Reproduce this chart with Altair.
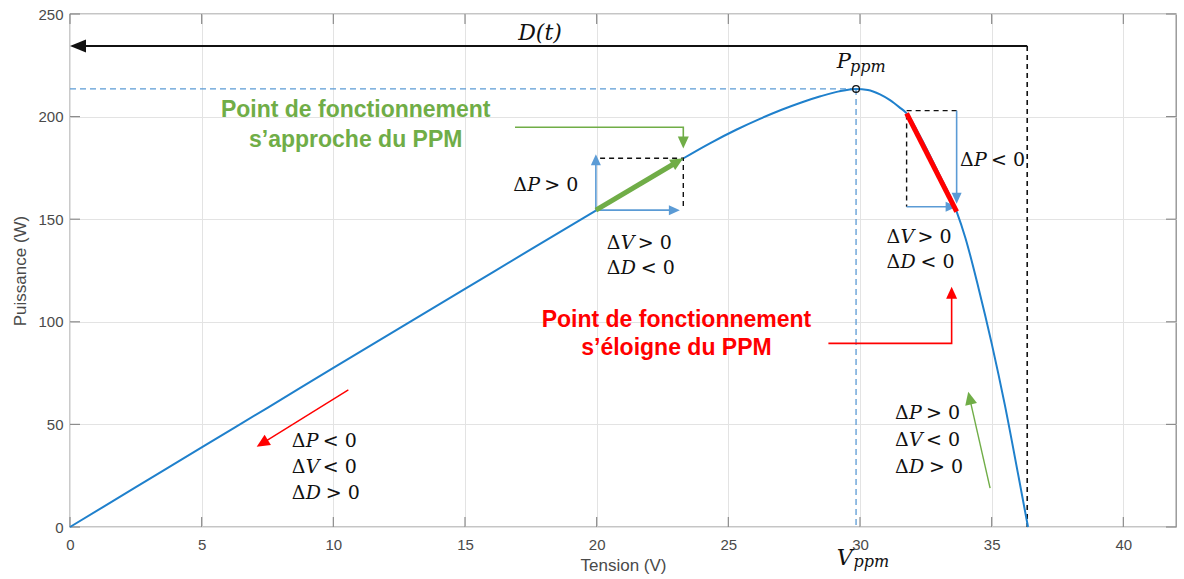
import math
import altair as alt
import pandas as pd

# ---------------- data ----------------
# P-V curve of the PV module
V = [0, 2.5, 5, 7.5, 10, 12.5, 15, 17.5, 20, 22, 23.3, 24.3, 25.3, 26.2, 27.0, 27.8,
     28.5, 29.2, 29.85, 30.3, 30.76, 31.14, 31.5, 31.77, 32.3, 33.0, 33.67, 34.0,
     34.5, 35.0, 35.5, 36.0, 36.38]
P = [0, 19.4, 38.8, 58.1, 77.5, 96.8, 116.0, 135.3, 154.4, 169.4, 179.7, 187.0,
     193.6, 198.9, 203.2, 207.0, 209.9, 212.3, 213.5, 213.0, 210.8, 208.0, 204.5,
     201.6, 190.0, 172.0, 153.7, 141.0, 116.5, 89.5, 59.5, 26.0, 0]

X_TICKS = [0, 5, 10, 15, 20, 25, 30, 35, 40]
Y_TICKS = [0, 50, 100, 150, 200, 250]

V_MPP, P_MPP = 29.85, 213.5
V_D, P_D = 36.35, 234.4          # D(t) arrow

# green step (approaching the MPP)
G_SEG_V, G_SEG_P = [19.97, 23.29], [154.4, 179.7]
G_BOX_V, G_BOX_P = [20.13, 23.29, 23.29], [179.7, 179.7, 154.6]
G_UP_V, G_UP_P = [19.97, 19.97], [154.4, 181.6]
G_RIGHT_V, G_RIGHT_P = [19.97, 23.16], [154.4, 154.4]
G_CONN_V, G_CONN_P = [16.9, 23.29, 23.29], [194.8, 194.8, 184.5]

# red step (moving away from the MPP)
R_SEG_V, R_SEG_P = [31.77, 33.67], [201.6, 153.7]
R_BOX_V, R_BOX_P = [33.67, 31.77, 31.77], [202.9, 202.9, 156.1]
R_DOWN_V, R_DOWN_P = [33.67, 33.67], [202.9, 157.5]
R_RIGHT_V, R_RIGHT_P = [31.77, 33.67], [156.1, 156.1]
R_CONN_V, R_CONN_P = [28.8, 33.48, 33.48], [89.5, 89.5, 117.1]

# small direction arrows
LL_ARR_V, LL_ARR_P = [10.57, 7.09], [66.8, 39.1]
LR_ARR_V, LR_ARR_P = [34.94, 34.11], [18.9, 65.9]

# delta labels: left position, centre height, variable, relation
DL_V = [16.83, 20.38, 20.38, 33.8, 31.01, 31.01, 8.42, 8.42, 8.42, 31.33, 31.33, 31.33]
DL_P = [166.7, 138.3, 126.1, 178.8, 141.5, 129.3, 42.1, 29.4, 16.4, 55.4, 42.4, 29.4]
DL_VAR = ["P", "V", "D", "P", "V", "D", "P", "V", "D", "P", "V", "D"]
DL_OP = [">", ">", "<", "<", ">", "<", "<", "<", ">", ">", "<", ">"]

GREEN_TXT = ["Point de fonctionnement", "s’approche du PPM"]
GREEN_TXT_V, GREEN_TXT_P = [10.85, 10.85], [200.0, 185.3]
RED_TXT = ["Point de fonctionnement", "s’éloigne du PPM"]
RED_TXT_V, RED_TXT_P = [23.03, 23.03], [97.6, 83.6]

# ---------------- styling ----------------
W, H = 1106, 513
X_MAX, Y_MAX = 42, 250
PX_X, PX_Y = W / X_MAX, H / Y_MAX

CURVE = "#1f80cc"
LBLUE = "#5b9bd5"
GREEN = "#70ad47"
RED = "#ff0000"
BOX = "#8c8c8c"
AXTXT = "#4a4a4a"

xs = alt.Scale(domain=[0, X_MAX], nice=False, zero=False)
ys = alt.Scale(domain=[0, Y_MAX], nice=False, zero=False)

x_axis = alt.Axis(values=X_TICKS, grid=True, gridColor="#e3e3e3", gridWidth=1,
                  ticks=False, domain=False, labelFont="Liberation Sans",
                  labelFontSize=15, labelColor=AXTXT, labelPadding=10,
                  labelFlush=False, titleFont="Liberation Sans", titleFontSize=17,
                  titleColor=AXTXT, titleFontWeight="normal", titlePadding=5)
y_axis = alt.Axis(values=Y_TICKS, grid=True, gridColor="#e3e3e3", gridWidth=1,
                  ticks=False, domain=False, labelFont="Liberation Sans",
                  labelFontSize=15, labelColor=AXTXT, labelPadding=7,
                  titleFont="Liberation Sans", titleFontSize=17, titleColor=AXTXT,
                  titleFontWeight="normal", titlePadding=8)


def X(f="v"):
    return alt.X(f"{f}:Q", scale=xs, axis=x_axis, title="Tension (V)")


def Y(f="p"):
    return alt.Y(f"{f}:Q", scale=ys, axis=y_axis, title="Puissance (W)")


def line(vs, ps, color, width, dash=None, interpolate=None):
    df = pd.DataFrame({"v": vs, "p": ps, "i": list(range(len(vs)))})
    kw = dict(color=color, strokeWidth=width, clip=False, strokeCap="butt")
    if dash:
        kw["strokeDash"] = dash
    if interpolate:
        kw["interpolate"] = interpolate
    return alt.Chart(df).mark_line(**kw).encode(x=X(), y=Y(), order="i:Q")


def arrow(vs, ps, color, width, head_len, head_w, dash=None):
    v_from, p_from = vs[-2], ps[-2]
    v_tip, p_tip = vs[-1], ps[-1]
    dx = (v_tip - v_from) * PX_X
    dy = -(p_tip - p_from) * PX_Y
    dist = math.hypot(dx, dy)
    ux, uy = dx / dist, dy / dist
    back = head_len * 0.75
    v_end = v_tip - ux * back / PX_X
    p_end = p_tip + uy * back / PX_Y
    ln = line(list(vs[:-1]) + [v_end], list(ps[:-1]) + [p_end], color, width, dash)
    ang = math.degrees(math.atan2(dx, -dy)) % 360
    hw = head_w / 2 / head_len
    shape = f"M0,0L{-hw:.3f},1L{hw:.3f},1Z"
    hd = pd.DataFrame({"v": [v_tip], "p": [p_tip], "a": [ang]})
    head = alt.Chart(hd).mark_point(shape=shape, filled=True, color=color,
                                    size=(2 * head_len) ** 2, opacity=1,
                                    strokeWidth=0, clip=False).encode(
        x=X(), y=Y(), angle=alt.Angle("a:Q", scale=None))
    return ln + head


def text(vs, ps, texts, color, font, size, style="normal", weight="normal",
         align="center", baseline="middle", dx=0):
    df = pd.DataFrame({"v": vs, "p": ps, "t": texts})
    return alt.Chart(df).mark_text(color=color, font=font, fontSize=size,
                                   fontStyle=style, fontWeight=weight, align=align,
                                   baseline=baseline, dx=dx, clip=False).encode(
        x=X(), y=Y(), text="t:N")


layers = []

# inward ticks on all four sides
xt = pd.DataFrame({"v": X_TICKS})
yt = pd.DataFrame({"p": Y_TICKS})
layers.append(alt.Chart(xt).mark_rule(color=BOX, strokeWidth=1.2).encode(
    x=X(), y=alt.value(H), y2=alt.value(H - 10)))
layers.append(alt.Chart(xt).mark_rule(color=BOX, strokeWidth=1.2).encode(
    x=X(), y=alt.value(0), y2=alt.value(10)))
layers.append(alt.Chart(yt).mark_rule(color=BOX, strokeWidth=1.2).encode(
    y=Y(), x=alt.value(0), x2=alt.value(10)))
layers.append(alt.Chart(yt).mark_rule(color=BOX, strokeWidth=1.2).encode(
    y=Y(), x=alt.value(W), x2=alt.value(W - 10)))

# MPP guide lines
layers.append(line([0, V_MPP], [P_MPP, P_MPP], LBLUE, 1.3, [6, 4]))
layers.append(line([V_MPP, V_MPP], [P_MPP, 0], LBLUE, 1.3, [6, 4]))

# D(t)
layers.append(line([V_D, V_D], [P_D, 0], "#111111", 1.6, [5, 4]))
layers.append(arrow([V_D, 0], [P_D, P_D], "#111111", 2.0, 16, 13))
layers.append(text([17.85], [240.6], ["D(t)"], "#111111", "DejaVu Serif", 22,
                   style="italic"))

# curve
layers.append(line(V, P, CURVE, 2.0, interpolate="monotone"))

# green step
layers.append(line(G_BOX_V, G_BOX_P, "#111111", 1.4, [5, 4]))
layers.append(arrow(G_UP_V, G_UP_P, LBLUE, 1.6, 11, 10))
layers.append(arrow(G_RIGHT_V, G_RIGHT_P, LBLUE, 1.6, 11, 10))
layers.append(arrow(G_SEG_V, G_SEG_P, GREEN, 5.0, 13, 12))
layers.append(arrow(G_CONN_V, G_CONN_P, GREEN, 1.6, 12, 11))

# red step
layers.append(line(R_BOX_V, R_BOX_P, "#111111", 1.4, [5, 4]))
layers.append(arrow(R_DOWN_V, R_DOWN_P, LBLUE, 1.6, 11, 10))
layers.append(arrow(R_RIGHT_V, R_RIGHT_P, LBLUE, 1.6, 11, 10))
layers.append(line(R_SEG_V, R_SEG_P, RED, 5.0))
layers.append(arrow(R_CONN_V, R_CONN_P, RED, 1.6, 12, 11))

# small direction arrows
layers.append(arrow(LL_ARR_V, LL_ARR_P, RED, 1.4, 13, 12))
layers.append(arrow(LR_ARR_V, LR_ARR_P, GREEN, 1.4, 13, 12))

# MPP marker and labels
layers.append(alt.Chart(pd.DataFrame({"v": [V_MPP], "p": [P_MPP]})).mark_point(
    shape="circle", filled=False, color="#111111", size=45, strokeWidth=1.3,
    opacity=1).encode(x=X(), y=Y()))
layers.append(text([29.12], [226.8], ["P"], "#111111", "DejaVu Serif", 21,
                   style="italic", align="left"))
layers.append(text([29.62], [224.0], ["ppm"], "#111111", "DejaVu Serif", 16,
                   style="italic", align="left"))
layers.append(text([29.12], [-14.9], ["V"], "#111111", "DejaVu Serif", 22,
                   style="italic", align="left"))
layers.append(text([29.75], [-17.0], ["ppm"], "#111111", "DejaVu Serif", 16,
                   style="italic", align="left"))

# delta labels
n = len(DL_V)
layers.append(text(DL_V, DL_P, ["Δ"] * n, "#111111", "DejaVu Serif", 19,
                   align="left"))
layers.append(text(DL_V, DL_P, DL_VAR, "#111111", "DejaVu Serif", 19,
                   style="italic", align="left", dx=14))
idx_d = [i for i in range(n) if DL_VAR[i] == "D"]
idx_o = [i for i in range(n) if DL_VAR[i] != "D"]
layers.append(text([DL_V[i] for i in idx_o], [DL_P[i] for i in idx_o],
                   [DL_OP[i] + " 0" for i in idx_o], "#111111",
                   "DejaVu Serif", 19, align="left", dx=31))
layers.append(text([DL_V[i] for i in idx_d], [DL_P[i] for i in idx_d],
                   [DL_OP[i] + " 0" for i in idx_d], "#111111",
                   "DejaVu Serif", 19, align="left", dx=34))

# coloured annotations
layers.append(text(GREEN_TXT_V, GREEN_TXT_P, GREEN_TXT, GREEN, "Liberation Sans",
                   23, weight="bold", baseline="alphabetic"))
layers.append(text(RED_TXT_V, RED_TXT_P, RED_TXT, RED, "Liberation Sans",
                   23, weight="bold", baseline="alphabetic"))

chart = alt.layer(*layers).properties(
    width=W, height=H,
    autosize=alt.AutoSizeParams(type="none"),
    padding={"left": 70, "top": 14, "right": 8, "bottom": 52},
    background="white",
).configure_view(stroke=BOX, strokeWidth=1.3)

chart.save("out.html", embed_options={"renderer": "svg", "actions": False})
